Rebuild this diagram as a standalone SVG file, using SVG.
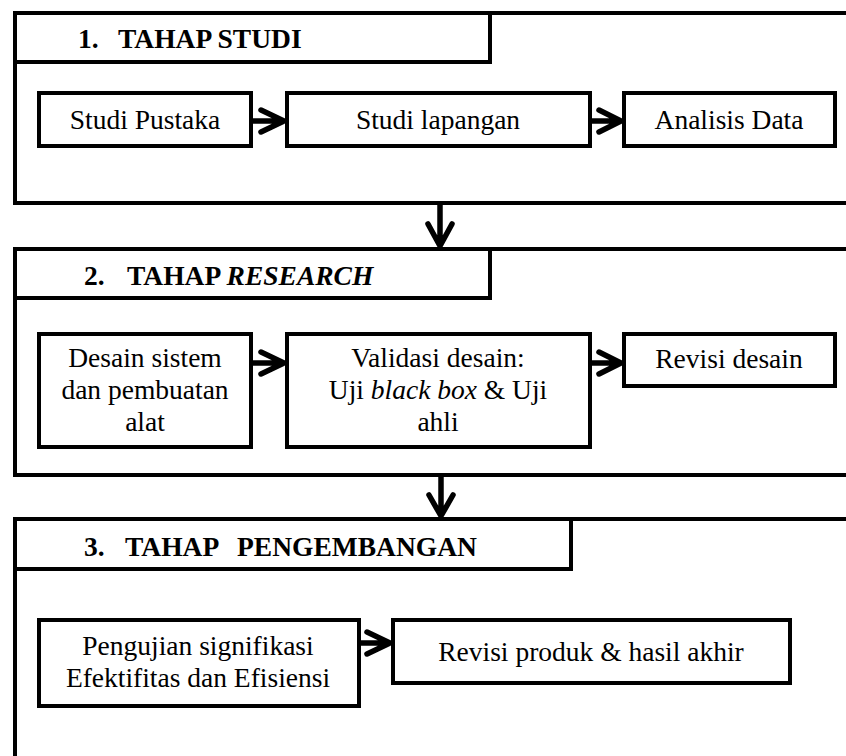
<svg xmlns="http://www.w3.org/2000/svg" width="846" height="756" viewBox="0 0 846 756">
<style>
.frame{fill:none;stroke:#000;stroke-width:4;stroke-linejoin:miter}
.box{fill:#fff;stroke:#000;stroke-width:4}
.t{font-family:'Liberation Serif','Times New Roman',serif;font-size:27.5px;fill:#000;text-anchor:middle}
.h{font-family:'Liberation Serif','Times New Roman',serif;font-size:27.5px;font-weight:bold;fill:#000}
.arr{fill:none;stroke:#000;stroke-width:5.5;stroke-linejoin:round;stroke-linecap:round}
</style>
<rect width="846" height="756" fill="#fff"/>
<g id="section1">
<path class="frame" d="M860 13 H15 V203 H860"/>
<rect class="frame" x="15" y="13" width="475" height="49"/>
<text class="h" x="78" y="48">1.<tspan x="118">TAHAP STUDI</tspan></text>
</g>
<g id="section2">
<path class="frame" d="M860 249 H15 V475 H860"/>
<rect class="frame" x="15" y="249" width="475" height="49"/>
<text class="h" x="84" y="285">2.<tspan x="127">TAHAP </tspan><tspan font-style="italic">RESEARCH</tspan></text>
</g>
<g id="section3">
<path class="frame" d="M860 519 H15 V760"/>
<rect class="frame" x="15" y="519" width="556" height="50"/>
<text class="h" x="84" y="556">3.<tspan x="125">TAHAP</tspan><tspan x="237">PENGEMBANGAN</tspan></text>
</g>
<g id="studi-pustaka"><rect class="box" x="39" y="93" width="212" height="53"/><text class="t" x="145" y="129">Studi Pustaka</text></g>
<g id="studi-lapangan"><rect class="box" x="287" y="93" width="303" height="53"/><text class="t" x="438" y="129">Studi lapangan</text></g>
<g id="analisis-data"><rect class="box" x="624" y="93" width="211" height="53"/><text class="t" x="729" y="129">Analisis Data</text></g>
<g id="desain-sistem"><rect class="box" x="39" y="334" width="212" height="113"/><text class="t" x="145" y="367">Desain sistem</text><text class="t" x="145" y="399">dan pembuatan</text><text class="t" x="145" y="431">alat</text></g>
<g id="validasi-desain"><rect class="box" x="287" y="334" width="303" height="113"/><text class="t" x="438" y="367">Validasi desain:</text><text class="t" x="438" y="399">Uji <tspan font-style="italic">black box</tspan> &amp; Uji</text><text class="t" x="438" y="431">ahli</text></g>
<g id="revisi-desain"><rect class="box" x="624" y="334" width="211" height="52"/><text class="t" x="729" y="368">Revisi desain</text></g>
<g id="pengujian"><rect class="box" x="39" y="620" width="320" height="86"/><text class="t" x="198" y="655">Pengujian signifikasi</text><text class="t" x="198" y="687">Efektifitas dan Efisiensi</text></g>
<g id="revisi-produk"><rect class="box" x="393" y="620" width="397" height="63"/><text class="t" x="591" y="661">Revisi produk &amp; hasil akhir</text></g>
<g id="connectors">
<path class="arr" d="M253 121 H284 M261 110 L284 121 L261 132"/>
<path class="arr" d="M592 121 H621 M599 110 L621 121 L599 132"/>
<path class="arr" d="M253 363 H284 M261 352 L284 363 L261 374"/>
<path class="arr" d="M592 363 H621 M599 352 L621 363 L599 374"/>
<path class="arr" d="M361 643 H390 M367 632 L390 643 L367 654"/>
<path class="arr" d="M440 205 V246 M428 224 L440 246 L452 224"/>
<path class="arr" d="M441 477 V516 M429 495 L441 516 L453 495"/>
</g>
</svg>
